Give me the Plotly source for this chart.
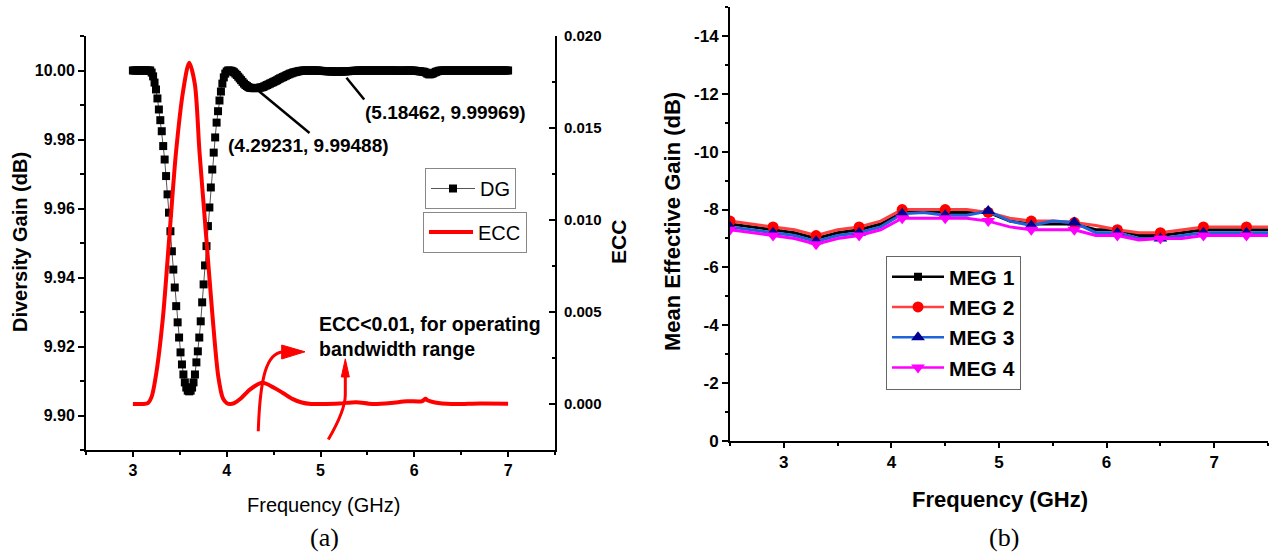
import numpy as np
import plotly.graph_objects as go

# ---------------- (a) Diversity gain and ECC ----------------
SWEEP_START_GHZ = 3.0
SWEEP_STOP_GHZ = 7.0
SWEEP_POINTS = 261
dg_freq = np.linspace(SWEEP_START_GHZ, SWEEP_STOP_GHZ, SWEEP_POINTS)

dg_db = [
    10.0000, 10.0000, 10.0000, 10.0000, 10.0000, 10.0000, 10.0000, 10.0000, 10.0000, 10.0000,
    10.0000, 10.0000, 10.0000, 9.9994, 9.9983, 9.9965, 9.9945, 9.9919, 9.9887, 9.9856,
    9.9824, 9.9781, 9.9742, 9.9694, 9.9641, 9.9588, 9.9534, 9.9476, 9.9423, 9.9371,
    9.9317, 9.9270, 9.9226, 9.9183, 9.9148, 9.9119, 9.9096, 9.9081, 9.9072, 9.9070,
    9.9072, 9.9081, 9.9096, 9.9119, 9.9154, 9.9186, 9.9226, 9.9273, 9.9328, 9.9380,
    9.9435, 9.9491, 9.9549, 9.9603, 9.9661, 9.9713, 9.9762, 9.9806, 9.9849, 9.9882,
    9.9913, 9.9939, 9.9962, 9.9980, 9.9991, 9.9997, 10.0000, 10.0000, 9.9999, 9.9998,
    9.9995, 9.9991, 9.9987, 9.9982, 9.9977, 9.9972, 9.9967, 9.9962, 9.9958, 9.9955,
    9.9952, 9.9950, 9.99495, 9.99490, 9.99488, 9.99489, 9.99492, 9.99497, 9.99503, 9.9951,
    9.9952, 9.9954, 9.9956, 9.9958, 9.9960, 9.9962, 9.9964, 9.9966, 9.9968, 9.9970,
    9.9972, 9.9975, 9.9977, 9.9979, 9.9981, 9.9983, 9.9985, 9.9987, 9.9989, 9.9991,
    9.9992, 9.9994, 9.9995, 9.9996, 9.9997, 9.9998, 9.9999, 9.9999, 10.0000, 10.0000,
    10.0000, 10.0000, 10.0000, 10.0000, 10.0000, 10.0000, 10.0000, 10.0000, 10.0000, 9.99995,
    9.99990, 9.99988, 9.99985, 9.99982, 9.99980, 9.99978, 9.99976, 9.99974, 9.99972, 9.99971,
    9.99970, 9.99969, 9.99969, 9.99969, 9.99970, 9.99971, 9.99973, 9.99975, 9.99978, 9.99980,
    9.99983, 9.99986, 9.99988, 9.99990, 9.99993, 9.99995, 9.99998, 10.0000, 10.0000, 10.0000,
    10.0000, 10.0000, 10.0000, 10.0000, 10.0000, 10.0000, 10.0000, 10.0000, 10.0000, 10.0000,
    10.0000, 10.0000, 10.0000, 10.0000, 10.0000, 10.0000, 10.0000, 10.0000, 10.0000, 10.0000,
    10.0000, 10.0000, 10.0000, 9.99998, 9.99996, 9.99995, 9.99995, 9.99996, 9.99998, 10.0000,
    10.0000, 10.0000, 10.0000, 10.0000, 9.99998, 9.99995, 9.99990, 9.99985, 9.99980, 9.99975,
    9.99970, 9.99965, 9.99960, 9.99940, 9.99910, 9.99890, 9.99890, 9.99900, 9.99920, 9.99940,
    9.99960, 9.99975, 9.99990, 9.99995, 10.0000, 10.0000, 10.0000, 10.0000, 10.0000, 10.0000,
    10.0000, 10.0000, 10.0000, 10.0000, 10.0000, 10.0000, 10.0000, 10.0000, 10.0000, 10.0000,
    10.0000, 10.0000, 10.0000, 10.0000, 10.0000, 10.0000, 10.0000, 10.0000, 10.0000, 10.0000,
    10.0000, 10.0000, 10.0000, 10.0000, 10.0000, 10.0000, 10.0000, 10.0000, 10.0000, 10.0000,
    10.0000, 10.0000, 10.0000, 10.0000, 10.0000, 10.0000, 10.0000, 10.0000, 10.0000, 10.0000,
    10.0000,
]

ecc_freq = [3.00, 3.10, 3.16, 3.20, 3.25, 3.32, 3.39, 3.46, 3.535, 3.60,
            3.66, 3.71, 3.78, 3.85, 3.91, 3.96, 4.00, 4.04, 4.08, 4.15,
            4.25, 4.38, 4.50, 4.60, 4.70, 4.80, 4.90, 5.00, 5.20, 5.38,
            5.55, 5.75, 5.92, 6.08, 6.12, 6.14, 6.22, 6.40, 6.70, 7.00]
ecc = [0.0, 0.0, 0.00005, 0.0004, 0.0017, 0.0047, 0.0092, 0.0137, 0.0170, 0.01855,
       0.0174, 0.0137, 0.0092, 0.0047, 0.0015, 0.0003, 0.00005, 0.0, 0.00005, 0.0003,
       0.0008, 0.00115, 0.0009, 0.0006, 0.00028, 0.00008, 0.0, 0.0, 0.00003, 0.0001,
       0.0, 0.00005, 0.00015, 0.00015, 0.00028, 0.0002, 0.00008, 0.0, 0.00003, 0.00002]

# marked points on the DG curve
dg_marked = [(4.29231, 9.99488), (5.18462, 9.99969)]

# ---------------- (b) Mean effective gain ----------------
meg_freq = [2.5, 2.7, 2.9, 3.1, 3.3, 3.5, 3.7, 3.9, 4.1, 4.3, 4.5, 4.7, 4.9,
            5.1, 5.3, 5.5, 5.7, 5.9, 6.1, 6.3, 6.5, 6.7, 6.9, 7.1, 7.3, 7.5]
meg1 = [-7.5, -7.4, -7.3, -7.2, -7.0, -7.2, -7.3, -7.5, -7.9, -7.9, -7.9, -7.9, -7.9,
        -7.6, -7.5, -7.5, -7.5, -7.3, -7.3, -7.1, -7.1, -7.2, -7.3, -7.3, -7.3, -7.3]
meg2 = [-7.6, -7.5, -7.4, -7.3, -7.1, -7.3, -7.4, -7.6, -8.0, -8.0, -8.0, -8.0, -7.9,
        -7.7, -7.6, -7.6, -7.55, -7.45, -7.3, -7.2, -7.2, -7.3, -7.4, -7.4, -7.4, -7.4]
meg3 = [-7.4, -7.3, -7.2, -7.1, -6.9, -7.1, -7.2, -7.4, -7.85, -7.9, -7.8, -7.8, -7.95,
        -7.6, -7.45, -7.6, -7.55, -7.2, -7.2, -7.0, -7.0, -7.1, -7.2, -7.2, -7.2, -7.2]
meg4 = [-7.3, -7.2, -7.1, -7.0, -6.8, -7.0, -7.1, -7.3, -7.7, -7.7, -7.7, -7.7, -7.6,
        -7.4, -7.3, -7.3, -7.3, -7.1, -7.1, -6.95, -7.0, -7.0, -7.1, -7.1, -7.1, -7.1]
meg_names = ["MEG 1", "MEG 2", "MEG 3", "MEG 4"]

meg_ytick_vals = [0, -2, -4, -6, -8, -10, -12, -14]
meg_ytick_text = ["0", "-2", "-4", "-6", "-8", "-10", "-12", "-14"]

# ---------------- layout helpers ----------------
FIG_W, FIG_H = 1270, 554
SANS = "Liberation Sans, Arial, Helvetica, sans-serif"
SERIF = "Liberation Serif, Times New Roman, serif"


def fx(px):
    return px / FIG_W


def fy(py):
    return 1 - py / FIG_H


A_X = [fx(86), fx(555)]
A_Y = [fy(450), fy(36)]
B_X = [fx(730), fx(1268)]
B_Y = [fy(441), fy(7)]

fig = go.Figure()

# (a) traces
fig.add_trace(go.Scatter(
    x=dg_freq, y=dg_db, name="DG", mode="lines+markers",
    line=dict(color="#555555", width=1),
    marker=dict(symbol="square", size=8, color="black"),
    xaxis="x", yaxis="y", legend="legend",
))
fig.add_trace(go.Scatter(
    x=ecc_freq, y=ecc, name="ECC", mode="lines",
    line=dict(color="#ff0000", width=4, shape="spline", smoothing=0.8),
    xaxis="x", yaxis="y2", legend="legend2",
))

# (b) traces: full line, every other point marked, plus a legend entry
meg_series = [meg1, meg2, meg3, meg4]
meg_line_colors = ["#000000", "#ff4040", "#1f63d8", "#ff00ff"]
meg_marker_colors = ["#000000", "#ff0000", "#000090", "#ff00ff"]
meg_symbols = ["square", "circle", "triangle-up", "triangle-down"]
meg_sizes = [8, 11, 12, 12]
for name, vals, lc, mc, sym, ms in zip(meg_names, meg_series, meg_line_colors,
                                       meg_marker_colors, meg_symbols, meg_sizes):
    fig.add_trace(go.Scatter(
        x=meg_freq, y=vals, mode="lines", line=dict(color=lc, width=3),
        showlegend=False, xaxis="x3", yaxis="y3", hoverinfo="skip",
    ))
    fig.add_trace(go.Scatter(
        x=meg_freq[0:25:2], y=vals[0:25:2], mode="markers",
        marker=dict(symbol=sym, size=ms, color=mc),
        showlegend=False, xaxis="x3", yaxis="y3", name=name,
    ))
    fig.add_trace(go.Scatter(
        x=[None], y=[None], mode="lines+markers", name=name,
        line=dict(color=lc, width=2.5),
        marker=dict(symbol=sym, size=ms, color=mc),
        xaxis="x3", yaxis="y3", legend="legend3",
    ))

axis_common = dict(showgrid=False, zeroline=False, showline=True, linecolor="black",
                   linewidth=2, tickcolor="black", tickwidth=2, automargin=False)

fig.update_layout(
    width=FIG_W, height=FIG_H,
    margin=dict(l=0, r=0, t=0, b=0),
    paper_bgcolor="white", plot_bgcolor="white",
    font=dict(family=SANS, color="black"),
    template="none",
    xaxis=dict(axis_common, domain=A_X, range=[2.5, 7.5], anchor="y",
               ticks="outside", ticklen=5, dtick=1, tick0=3,
               minor=dict(ticks="outside", ticklen=3, dtick=0.5, tick0=2.5,
                          tickwidth=2, tickcolor="black"),
               tickfont=dict(size=16, weight="bold")),
    yaxis=dict(axis_common, domain=A_Y, range=[9.89, 10.01], anchor="x",
               ticks="outside", ticklen=6, dtick=0.02, tick0=9.9, tickformat=".2f",
               minor=dict(ticks="outside", ticklen=4, dtick=0.01, tick0=9.89,
                          tickwidth=2, tickcolor="black"),
               tickfont=dict(size=16, weight="bold")),
    yaxis2=dict(axis_common, overlaying="y", side="right", anchor="x",
                range=[-0.0025, 0.020], ticks="inside", ticklen=6, dtick=0.005,
                tick0=0, tickformat=".3f", ticklabelstandoff=4,
                minor=dict(ticks="inside", ticklen=3, dtick=0.0025, tick0=0,
                           tickwidth=2, tickcolor="black"),
                tickfont=dict(size=15, weight="bold")),
    xaxis3=dict(axis_common, domain=B_X, range=[2.5, 7.5], anchor="y3",
                ticks="outside", ticklen=5, dtick=1, tick0=3,
                minor=dict(ticks="outside", ticklen=3, dtick=0.5, tick0=2.5,
                           tickwidth=2, tickcolor="black"),
                tickfont=dict(size=17, weight="bold")),
    yaxis3=dict(axis_common, domain=B_Y, range=[0, -15], anchor="x3",
                ticks="outside", ticklen=6, tickmode="array",
                tickvals=meg_ytick_vals, ticktext=meg_ytick_text,
                minor=dict(ticks="outside", ticklen=3, tickmode="linear",
                           dtick=1, tick0=0, tickwidth=2, tickcolor="black"),
                tickfont=dict(size=17, weight="bold")),
    legend=dict(x=fx(425), y=fy(188.5), xanchor="left", yanchor="middle",
                bordercolor="#888888", borderwidth=1, bgcolor="white",
                itemwidth=44, font=dict(size=20, family=SANS)),
    legend2=dict(x=fx(423), y=fy(232), xanchor="left", yanchor="middle",
                 bordercolor="#888888", borderwidth=1, bgcolor="white",
                 itemwidth=44, font=dict(size=20, family=SANS)),
    legend3=dict(x=fx(886), y=fy(322.5), xanchor="left", yanchor="middle",
                 bordercolor="#666666", borderwidth=1, bgcolor="white",
                 tracegroupgap=0, itemwidth=52,
                 font=dict(size=21, family=SANS, weight="bold")),
    showlegend=True,
)


def label(text, px, py, size, bold=False, angle=0, family=SANS):
    fig.add_annotation(
        text=text, x=fx(px), y=fy(py), xref="paper", yref="paper",
        showarrow=False, xanchor="center", yanchor="middle", textangle=angle,
        font=dict(size=size, family=family, color="black",
                  weight="bold" if bold else "normal"),
    )


# axis titles and panel captions
label("Diversity Gain (dB)", 20, 242, 20, bold=True, angle=-90)
label("ECC", 618, 242, 21, bold=True, angle=-90)
label("Frequency (GHz)", 323, 505, 20)
label("(a)", 324, 537, 26, family=SERIF)
label("Mean Effective Gain (dB)", 673, 222, 22, bold=True, angle=-90)
label("Frequency (GHz)", 1000, 500, 22, bold=True)
label("(b)", 1004, 537, 26, family=SERIF)

# data-point callouts in (a)
(fa, ga), (fb, gb) = dg_marked
fig.add_annotation(text=f"({fa:.5f}, {ga:.5f})", x=3.99, y=9.9783, xref="x", yref="y",
                   showarrow=False, xanchor="left", yanchor="middle",
                   font=dict(size=19, weight="bold"))
fig.add_annotation(text=f"({fb:.5f}, {gb:.5f})", x=5.453, y=9.9878, xref="x", yref="y",
                   showarrow=False, xanchor="left", yanchor="middle",
                   font=dict(size=19, weight="bold"))
fig.add_annotation(text="ECC<0.01, for operating<br>bandwidth range", x=4.958, y=9.9230,
                   xref="x", yref="y", showarrow=False, xanchor="left", yanchor="middle",
                   align="left", font=dict(size=19.5, weight="bold"))

leader = dict(xref="x", yref="y", line=dict(color="black", width=2.5))
fig.add_shape(type="line", x0=4.335, y0=9.9942, x1=4.883, y1=9.9819, **leader)
fig.add_shape(type="line", x0=5.277, y0=9.9979, x1=5.466, y1=9.9916, **leader)

# hand-drawn style red arrows
arrow_line = dict(xref="x", yref="y", line=dict(color="#ff0000", width=3))
arrow_head = dict(xref="x", yref="y", line=dict(color="#ff0000", width=1),
                  fillcolor="#ff0000")
fig.add_shape(type="path",
              path="M 4.3365,9.89545 C 4.3547,9.91043 4.4187,9.91855 4.6107,9.91841",
              **arrow_line)
fig.add_shape(type="path",
              path="M 4.5861,9.92043 L 4.8347,9.91846 L 4.5861,9.91638 Z",
              **arrow_head)
fig.add_shape(type="path",
              path="M 5.0832,9.89304 C 5.208,9.89884 5.2645,9.90319 5.2645,9.90609 L 5.2645,9.9112",
              **arrow_line)
fig.add_shape(type="path",
              path="M 5.2219,9.91116 L 5.2645,9.91643 L 5.3072,9.91116 Z",
              **arrow_head)

fig.write_html("out.html")
